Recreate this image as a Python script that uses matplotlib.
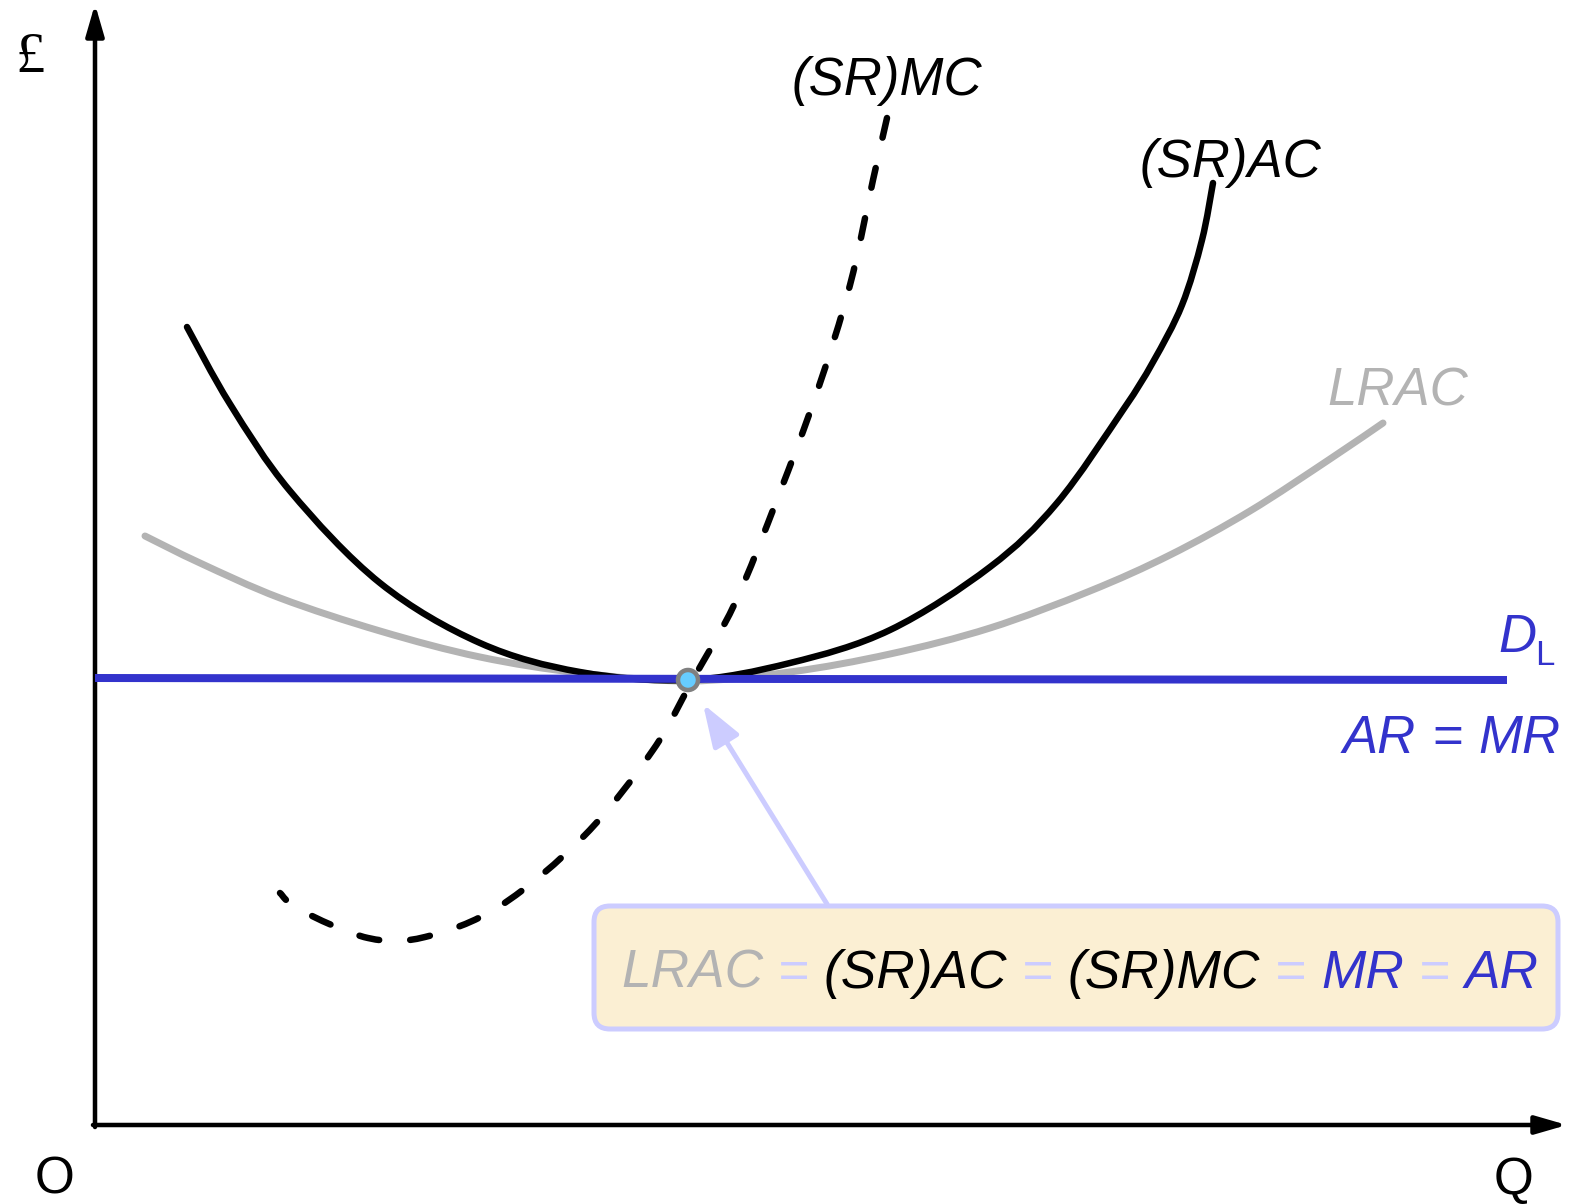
import numpy as np
import matplotlib
matplotlib.use("Agg")
import matplotlib.pyplot as plt
from matplotlib.path import Path
from matplotlib.patches import PathPatch, FancyBboxPatch, Circle

# values, in picture pixels (y grows downwards)
srac_x = [187, 230, 290, 380, 480, 580, 688, 790, 890, 990, 1057, 1123, 1153, 1182, 1202, 1213]
srac_y = [327, 404, 491, 583, 643, 672, 680, 663, 630, 567, 503, 410, 362, 305, 240, 183]

lrac_x = [145, 200, 280, 380, 480, 580, 688, 790, 890, 990, 1090, 1170, 1250, 1330, 1383]
lrac_y = [536, 563, 598, 631, 657, 673, 681, 672, 654, 628, 591, 555, 511, 459, 423]

# marginal cost, listed from its top end down
mc_x = [887, 873, 850, 817, 778, 735, 692, 653, 585, 500, 425, 368, 300, 280]
mc_y = [118, 180, 285, 392, 497, 603, 681, 750, 835, 906, 937, 938, 910, 893]

dl_x = [95, 1507]
dl_y = [678, 680]

eq_point = (688, 680)

PX = 0.72  # px -> pt at dpi 100
BLUE = "#3333CC"
GREY = "#B3B3B3"
LAV = "#CCCCFF"


def smooth_path(xs, ys):
    # bezier segments through every point (catmull-rom tangents)
    p = list(zip(xs, ys))
    n = len(p)
    verts = [p[0]]
    codes = [Path.MOVETO]
    for i in range(n - 1):
        a = p[i - 1] if i > 0 else p[i]
        b, c = p[i], p[i + 1]
        d = p[i + 2] if i + 2 < n else p[i + 1]
        c1 = (b[0] + (c[0] - a[0]) / 6, b[1] + (c[1] - a[1]) / 6)
        c2 = (c[0] - (d[0] - b[0]) / 6, c[1] - (d[1] - b[1]) / 6)
        verts += [c1, c2, c]
        codes += [Path.CURVE4] * 3
    return Path(verts, codes)


def path_length(path):
    t = np.linspace(0, 1, 60)
    total = 0.0
    for seg, _ in path.iter_bezier():
        pts = seg(t)
        total += np.hypot(*np.diff(pts, axis=0).T).sum()
    return total


fig = plt.figure(figsize=(15.69, 12.04), dpi=100)
ax = fig.add_axes([0, 0, 1, 1])
ax.set_xlim(0, 1569)
ax.set_ylim(1204, 0)
ax.axis("off")

# axes with arrows
axis_arrow = dict(arrowstyle="-|>,head_length=1.9,head_width=0.55", color="black",
                  lw=4.5 * PX, shrinkA=0, shrinkB=0, mutation_scale=10)
ax.annotate("", xy=(95, 4), xytext=(95, 1127), arrowprops=axis_arrow)
ax.annotate("", xy=(1567, 1125), xytext=(93, 1125), arrowprops=axis_arrow)

ax.add_patch(PathPatch(smooth_path(lrac_x, lrac_y), fill=False, ec=GREY, lw=7 * PX,
                       capstyle="round", zorder=2))
ax.add_patch(PathPatch(smooth_path(srac_x, srac_y), fill=False, ec="black", lw=6.5 * PX,
                       capstyle="round", zorder=3))
ax.plot(dl_x, dl_y, color=BLUE, lw=8 * PX, solid_capstyle="butt", zorder=4)

# dashed MC: full dash at the top, a short dash left at the bottom end
mc_path = smooth_path(mc_x, mc_y)
mc_lw = 6.5
dash_px = 3.1 * mc_lw
n_per = max(1, round((path_length(mc_path) - 9) / 52.0))
period_px = (path_length(mc_path) - 9) / n_per
ax.add_patch(PathPatch(mc_path, fill=False, ec="black", lw=mc_lw * PX,
                       ls=(0, (3.1, period_px / mc_lw - 3.1)), capstyle="round", zorder=5))

ax.add_patch(Circle(eq_point, 10, fc="#66CCFF", ec="#808080", lw=4.5 * PX, zorder=8))

# callout arrow and box
ax.annotate("", xy=(703, 704), xytext=(827, 904),
            arrowprops=dict(arrowstyle="-|>,head_length=2.6,head_width=0.9", color=LAV,
                            lw=5 * PX, shrinkA=0, shrinkB=0, mutation_scale=10), zorder=6)
ax.add_patch(FancyBboxPatch((594, 906), 964, 123, boxstyle="round,pad=0,rounding_size=16",
                            fc="#FBEFD3", ec=LAV, lw=5 * PX, zorder=7))

fs = 38
ital = dict(family=["Liberation Sans", "DejaVu Sans"], style="italic",
            va="baseline", ha="left")

ax.text(792, 95, "(SR)MC", color="black", fontsize=fs, **ital)
ax.text(1140, 177, "(SR)AC", color="black", fontsize=fs, **ital)
ax.text(1327, 406, "LRAC", color=GREY, fontsize=fs, **ital)
ax.text(1498, 652, "D", color=BLUE, fontsize=fs, **ital)
ax.text(1535, 665, "L", color=BLUE, family=["Liberation Sans"], fontsize=25,
        va="baseline", ha="left")
ax.text(1343, 753, "AR", color=BLUE, fontsize=fs, **ital)
ax.text(1432, 753, "=", color=BLUE, fontsize=fs, family=["Liberation Sans"],
        va="baseline", ha="left")
ax.text(1478, 753, "MR", color=BLUE, fontsize=fs, **ital)

parts = [("LRAC", GREY), (" = ", LAV), ("(SR)AC", "black"), (" = ", LAV),
         ("(SR)MC", "black"), (" = ", LAV), ("MR", BLUE), (" = ", LAV), ("AR", BLUE)]
fig.canvas.draw()
rend = fig.canvas.get_renderer()
x0 = 621
for s, c in parts:
    t = ax.text(x0, 988, s, color=c, zorder=9, fontsize=38.3, **ital)
    bb = t.get_window_extent(renderer=rend)
    x0 += bb.width

ax.text(30, 72, "£", family=["Liberation Serif"], fontsize=42, ha="center", va="baseline")
ax.text(55, 1194, "O", family=["Liberation Sans"], fontsize=37, ha="center", va="baseline")
ax.text(1514, 1194, "Q", family=["Liberation Sans"], fontsize=37, ha="center", va="baseline")

fig.savefig("out.png", dpi=100)
